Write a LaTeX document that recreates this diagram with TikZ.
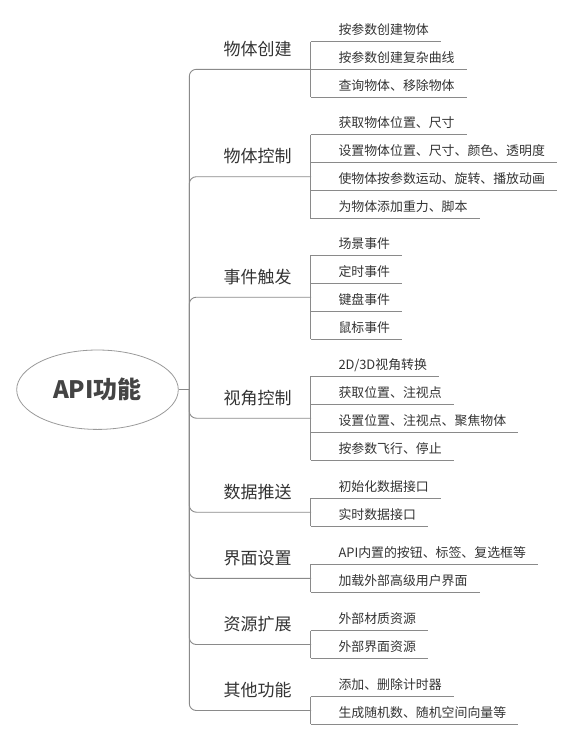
\documentclass[tikz,border=0pt]{standalone}
\usepackage{fontspec}
\setmainfont{Noto Sans CJK SC}
\usetikzlibrary{shapes.geometric}
\definecolor{txt}{HTML}{333333}
\definecolor{rootc}{HTML}{444444}
\definecolor{ln}{HTML}{8A8A8A}
\definecolor{elc}{HTML}{9A9A9A}
\newcommand\leaftext[1]{\hspace*{27.6pt}#1\hspace*{12pt}}
\newcommand\branchtext[1]{\makebox[121.4pt][l]{\hspace*{34pt}#1}}
\begin{document}
\begin{tikzpicture}[x=1pt,y=-1pt,
  conn/.style={draw=ln, line width=0.9pt},
  leaf/.style={anchor=south west, inner sep=0pt, text depth=6.8pt, text height=12pt,
    font=\fontsize{12.9}{15}\selectfont, text=txt},
  branch/.style={anchor=south west, inner sep=0pt, text depth=13.6pt, text height=16pt,
    font=\fontsize{17}{20}\selectfont, text=txt},
  rootnode/.style={ellipse, draw=elc, line width=0.8pt, minimum width=161.6pt,
    minimum height=79.4pt, inner sep=0pt, font=\fontsize{24}{28}\selectfont\bfseries, text=rootc}]
\useasboundingbox (0,0) rectangle (574,740);

% root
\node[rootnode] (root) at (97.5,389.7) {API功能};
\coordinate (spine) at (189.3,389.7);
\draw[conn] (root.east) -- (spine);

% branches
\node[branch] (b1) at (189.3,69.3) {\branchtext{物体创建}};
\node[branch] (b2) at (189.3,176.7) {\branchtext{物体控制}};
\node[branch] (b3) at (189.3,297.2) {\branchtext{事件触发}};
\node[branch] (b4) at (189.3,418.2) {\branchtext{视角控制}};
\node[branch] (b5) at (189.3,512.2) {\branchtext{数据推送}};
\node[branch] (b6) at (189.3,578.3) {\branchtext{界面设置}};
\node[branch] (b7) at (189.3,644.5) {\branchtext{资源扩展}};
\node[branch] (b8) at (189.3,710.5) {\branchtext{其他功能}};
\foreach \b in {b1,b2,b3,b4,b5,b6,b7,b8}
  \draw[conn, rounded corners=7pt] (spine) |- (\b.south east);

% group 1
\node[leaf] (c11) at (310.7,41.7) {\leaftext{按参数创建物体}};
\node[leaf] (c12) at (310.7,69.3) {\leaftext{按参数创建复杂曲线}};
\node[leaf] (c13) at (310.7,97.3) {\leaftext{查询物体、移除物体}};
% group 2
\node[leaf] (c21) at (310.7,134.7) {\leaftext{获取物体位置、尺寸}};
\node[leaf] (c22) at (310.7,162.7) {\leaftext{设置物体位置、尺寸、颜色、透明度}};
\node[leaf] (c23) at (310.7,190.7) {\leaftext{使物体按参数运动、旋转、播放动画}};
\node[leaf] (c24) at (310.7,218.5) {\leaftext{为物体添加重力、脚本}};
% group 3
\node[leaf] (c31) at (310.7,255.0) {\leaftext{场景事件}};
\node[leaf] (c32) at (310.7,283.2) {\leaftext{定时事件}};
\node[leaf] (c33) at (310.7,311.3) {\leaftext{键盘事件}};
\node[leaf] (c34) at (310.7,339.3) {\leaftext{鼠标事件}};
% group 4
\node[leaf] (c41) at (310.7,376.0) {\leaftext{2D/3D视角转换}};
\node[leaf] (c42) at (310.7,404.0) {\leaftext{获取位置、注视点}};
\node[leaf] (c43) at (310.7,432.0) {\leaftext{设置位置、注视点、聚焦物体}};
\node[leaf] (c44) at (310.7,460.3) {\leaftext{按参数飞行、停止}};
% group 5
\node[leaf] (c51) at (310.7,498.3) {\leaftext{初始化数据接口}};
\node[leaf] (c52) at (310.7,526.0) {\leaftext{实时数据接口}};
% group 6
\node[leaf] (c61) at (310.7,564.3) {\leaftext{API内置的按钮、标签、复选框等}};
\node[leaf] (c62) at (310.7,592.3) {\leaftext{加载外部高级用户界面}};
% group 7
\node[leaf] (c71) at (310.7,630.7) {\leaftext{外部材质资源}};
\node[leaf] (c72) at (310.7,658.3) {\leaftext{外部界面资源}};
% group 8
\node[leaf] (c81) at (310.7,696.7) {\leaftext{添加、删除计时器}};
\node[leaf] (c82) at (310.7,724.3) {\leaftext{生成随机数、随机空间向量等}};

% underlines of leaves
\foreach \c in {c11,c12,c13,c21,c22,c23,c24,c31,c32,c33,c34,c41,c42,c43,c44,c51,c52,c61,c62,c71,c72,c81,c82}
  \draw[conn] (\c.south west) -- (\c.south east);
% vertical connectors of groups
\draw[conn] (c11.south west) -- (c13.south west);
\draw[conn] (c21.south west) -- (c24.south west);
\draw[conn] (c31.south west) -- (c34.south west);
\draw[conn] (c41.south west) -- (c44.south west);
\draw[conn] (c51.south west) -- (c52.south west);
\draw[conn] (c61.south west) -- (c62.south west);
\draw[conn] (c71.south west) -- (c72.south west);
\draw[conn] (c81.south west) -- (c82.south west);
\end{tikzpicture}
\end{document}
